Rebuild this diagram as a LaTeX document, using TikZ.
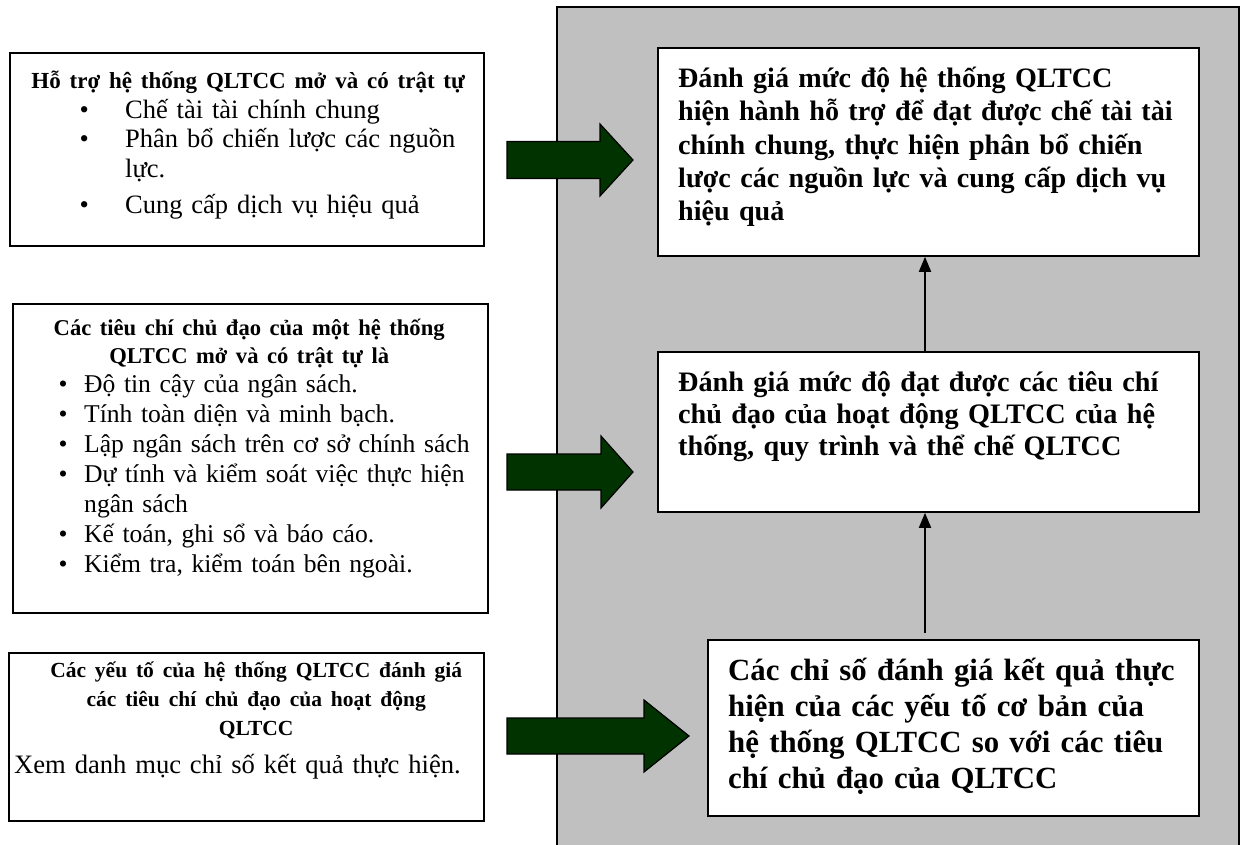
\documentclass[tikz,border=0pt]{standalone}
\usepackage{fontspec}
\setmainfont{Liberation Serif}
\usetikzlibrary{arrows.meta}
\definecolor{panelgray}{HTML}{C0C0C0}
\definecolor{darkgreen}{HTML}{003300}
\tikzset{
  box/.style={draw=black, line width=1.8pt, fill=white, inner sep=0pt, anchor=north west},
  txt/.style={inner sep=0pt, anchor=base west, align=left, text width=#1},
  garrow/.style={draw=black, line width=1.2pt, fill=darkgreen, line join=miter},
  conn/.style={line width=1.8pt, -{Triangle[width=12pt,length=15pt]}},
}
\newcommand\bul[1]{\makebox[#1][l]{\textbullet}}
\begin{document}
\begin{tikzpicture}[x=1pt,y=-1pt]
\clip (0,0) rectangle (1248,844);
\useasboundingbox (0,0) rectangle (1248,844);
% grey panel
\fill[panelgray] (557,7) rectangle (1239,860);
\draw[line width=1.5pt] (557,860) -- (557,7) -- (1239,7) -- (1239,860);

% boxes
\node[box, minimum width=474pt, minimum height=193pt] (l1) at (9,52) {};
\node[box, minimum width=475pt, minimum height=309pt] (l2) at (12,303) {};
\node[box, minimum width=475pt, minimum height=168pt] (l3) at (8,652) {};
\node[box, minimum width=541pt, minimum height=208pt] (r1) at (657,47) {};
\node[box, minimum width=541pt, minimum height=160pt] (r2) at (657,351) {};
\node[box, minimum width=491pt, minimum height=176pt] (r3) at (707,639) {};

% left texts
\node[txt=420pt, font=\fontsize{26.5}{29.5}\selectfont] (l1t) at (79.5,88.5)
 {\makebox[337pt][c]{\bfseries\fontsize{23}{29.5}\selectfont Hỗ trợ hệ thống QLTCC mở và có trật tự}\\
  \bul{45.5pt}Chế tài tài chính chung\\
  \bul{45.5pt}Phân bổ chiến lược các nguồn\\
  \hspace*{45.5pt}lực.\\[7pt]
  \bul{45.5pt}Cung cấp dịch vụ hiệu quả};

\node[txt=460pt, font=\fontsize{25.6}{30}\selectfont] (l2t) at (58.5,335.5)
 {\makebox[381pt][c]{\bfseries\fontsize{22.6}{30}\selectfont Các tiêu chí chủ đạo của một hệ thống}\\[-2pt]
  \makebox[381pt][c]{\bfseries\fontsize{22.6}{30}\selectfont QLTCC mở và có trật tự là}\\[-1.5pt]
  \bul{25.5pt}Độ tin cậy của ngân sách.\\
  \bul{25.5pt}Tính toàn diện và minh bạch.\\
  \bul{25.5pt}Lập ngân sách trên cơ sở chính sách\\
  \bul{25.5pt}Dự tính và kiểm soát việc thực hiện\\
  \hspace*{25.5pt}ngân sách\\
  \bul{25.5pt}Kế toán, ghi sổ và báo cáo.\\
  \bul{25.5pt}Kiểm tra, kiểm toán bên ngoài.};

\node[txt=480pt, font=\fontsize{26.6}{29}\selectfont] (l3t) at (14,677)
 {\makebox[484pt][c]{\bfseries\fontsize{21.5}{29}\selectfont Các yếu tố của hệ thống QLTCC đánh giá}\\
  \makebox[484pt][c]{\bfseries\fontsize{21.5}{29}\selectfont các tiêu chí chủ đạo của hoạt động}\\
  \makebox[484pt][c]{\bfseries\fontsize{21.5}{29}\selectfont QLTCC}\\[9pt]
  Xem danh mục chỉ số kết quả thực hiện.};

% right texts
\node[txt=530pt, font=\bfseries\fontsize{28.1}{33.3}\selectfont] (r1t) at (678,87.5)
 {Đánh giá mức độ hệ thống QLTCC\\
  hiện hành hỗ trợ để đạt được chế tài tài\\
  chính chung, thực hiện phân bổ chiến\\
  lược các nguồn lực và cung cấp dịch vụ\\
  hiệu quả};
\node[txt=530pt, font=\bfseries\fontsize{28.2}{32}\selectfont] (r2t) at (678,391)
 {Đánh giá mức độ đạt được các tiêu chí\\
  chủ đạo của hoạt động QLTCC của hệ\\
  thống, quy trình và thể chế QLTCC};
\node[txt=480pt, font=\bfseries\fontsize{30.8}{36.3}\selectfont] (r3t) at (728,680)
 {Các chỉ số đánh giá kết quả thực\\
  hiện của các yếu tố cơ bản của\\
  hệ thống QLTCC so với các tiêu\\
  chí chủ đạo của QLTCC};

% green block arrows
\draw[garrow] (507,141.5) -- (600,141.5) -- (600,124) -- (633,160) -- (600,196) -- (600,178.5) -- (507,178.5) -- cycle;
\draw[garrow] (507,454) -- (601,454) -- (601,436) -- (633,472) -- (601,508) -- (601,490) -- (507,490) -- cycle;
\draw[garrow] (507,718) -- (644,718) -- (644,700) -- (689,736) -- (644,772) -- (644,754) -- (507,754) -- cycle;

% vertical connectors
\coordinate (ax) at (925,0);
\draw[conn] (r2.north -| ax) -- (r1.south -| ax);
\draw[conn, shorten <=6pt] (r3.north -| ax) -- (r2.south -| ax);
\end{tikzpicture}
\end{document}
